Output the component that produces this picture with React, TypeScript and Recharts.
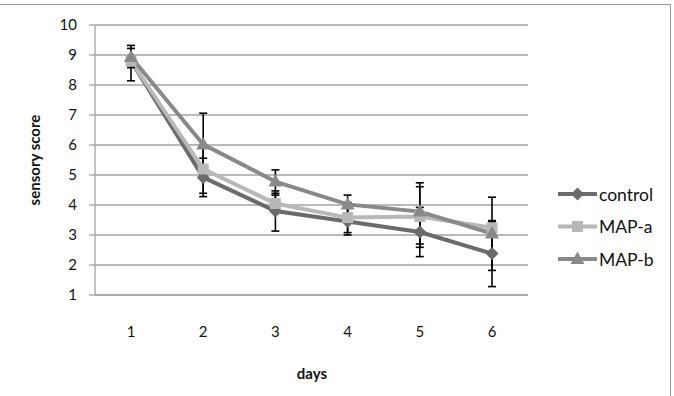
import { LineChart, Line, XAxis, YAxis, CartesianGrid, ErrorBar } from 'recharts'

const DAYS = ['1', '2', '3', '4', '5', '6']
const CONTROL = [8.8, 4.92, 3.8, 3.45, 3.1, 2.38]
const MAP_A = [8.8, 5.2, 4.05, 3.58, 3.62, 3.24]
const MAP_B = [8.93, 6.02, 4.78, 4.02, 3.78, 3.05]
// [minus, plus] standard deviations
const CONTROL_ERR = [[0.66, 0.42], [0.64, 0.64], [0.67, 0.67], [0.45, 0.45], [0.82, 0.82], [1.1, 1.1]]
const MAP_A_ERR = [[0.15, 0.15], [0.81, 0.81], [0.28, 0.28], [0.5, 0.5], [1.03, 0.99], [0.2, 0.2]]
const MAP_B_ERR = [[0.35, 0.39], [1.04, 1.04], [0.39, 0.39], [0.31, 0.31], [1.08, 0.96], [1.23, 1.21]]
const Y_TICKS = [1, 2, 3, 4, 5, 6, 7, 8, 9, 10]

const data = DAYS.map((day, i) => ({
  day,
  control: CONTROL[i],
  mapA: MAP_A[i],
  mapB: MAP_B[i],
  controlErr: CONTROL_ERR[i],
  mapAErr: MAP_A_ERR[i],
  mapBErr: MAP_B_ERR[i],
}))

const FONT = 'Lato, "Open Sans", sans-serif'

type Shape = 'diamond' | 'square' | 'triangle'

const SERIES: { key: string; err: string; name: string; color: string; shape: Shape }[] = [
  { key: 'control', err: 'controlErr', name: 'control', color: '#6b6b6b', shape: 'diamond' },
  { key: 'mapA', err: 'mapAErr', name: 'MAP-a', color: '#b8b8b8', shape: 'square' },
  { key: 'mapB', err: 'mapBErr', name: 'MAP-b', color: '#898989', shape: 'triangle' },
]

const markerPath = (shape: Shape, x: number, y: number) => {
  if (shape === 'diamond') return `M${x},${y - 6.5}L${x + 6.5},${y}L${x},${y + 6.5}L${x - 6.5},${y}Z`
  if (shape === 'square') return `M${x - 5.5},${y - 5.5}h11v11h-11Z`
  return `M${x},${y - 7.5}L${x + 7},${y + 5}L${x - 7},${y + 5}Z`
}

const makeDot = (shape: Shape, color: string) => (props: any) => {
  const { cx, cy, index } = props
  if (cx == null || cy == null) return <g key={index} />
  return <path key={index} d={markerPath(shape, cx, cy)} fill={color} stroke="none" />
}

function LegendBox() {
  return (
    <svg width={120} height={110} style={{ position: 'absolute', left: 552, top: 176 }}>
      {SERIES.map((s, i) => {
        const y = 18 + i * 32.5
        return (
          <g key={s.key}>
            <line x1={6} x2={45} y1={y} y2={y} stroke={s.color} strokeWidth={4} />
            <path d={markerPath(s.shape, 25.5, y)} fill={s.color} />
            <text x={47} y={y} dominantBaseline="central" fontFamily={FONT} fontSize={17.5} fill="#111">
              {s.name}
            </text>
          </g>
        )
      })}
    </svg>
  )
}

export default function App() {
  return (
    <div style={{ position: 'absolute', left: 0, top: 0, width: 674, height: 396, background: '#fff', overflow: 'hidden' }}>
      <div
        style={{
          position: 'absolute',
          left: -4,
          top: 4,
          width: 674,
          height: 400,
          borderTop: '1.5px solid #9a9a9a',
          borderRight: '1.5px solid #9a9a9a',
        }}
      />
      <LineChart width={674} height={396} data={data} margin={{ top: 25, right: 146, bottom: 41, left: 35 }}>
        <CartesianGrid vertical={false} stroke="#a3a3a3" strokeWidth={1.3} />
        <XAxis
          dataKey="day"
          height={60}
          padding={{ left: 36, right: 36 }}
          axisLine={{ stroke: '#a3a3a3', strokeWidth: 1.3 }}
          tickLine={false}
          tickMargin={25}
          tick={{ fontFamily: FONT, fontSize: 15, fill: '#111' }}
          label={() => (
            <text x={312} y={373} textAnchor="middle" dominantBaseline="central" fontFamily={FONT} fontSize={15} fontWeight="bold" fill="#111">
              days
            </text>
          )}
        />
        <YAxis
          type="number"
          domain={[1, 10]}
          ticks={Y_TICKS}
          interval={0}
          width={60}
          axisLine={{ stroke: '#a3a3a3', strokeWidth: 1.3 }}
          tickLine={{ stroke: '#a3a3a3', strokeWidth: 1.3 }}
          tickSize={6}
          tickMargin={12}
          tick={{ fontFamily: FONT, fontSize: 15, fill: '#111' }}
          label={() => (
            <text
              x={34}
              y={160}
              transform="rotate(-90 34 160)"
              textAnchor="middle"
              dominantBaseline="central"
              fontFamily={FONT}
              fontSize={15}
              fontWeight="bold"
              fill="#111"
            >
              sensory score
            </text>
          )}
        />
        {SERIES.map((s) => (
          <Line
            key={s.key}
            dataKey={s.key}
            name={s.name}
            type="linear"
            stroke={s.color}
            strokeWidth={4}
            dot={makeDot(s.shape, s.color)}
            activeDot={false}
            isAnimationActive={false}
          >
            <ErrorBar dataKey={s.err} direction="y" width={4} stroke="#000" strokeWidth={1.6} />
          </Line>
        ))}
      </LineChart>
      <LegendBox />
    </div>
  )
}
